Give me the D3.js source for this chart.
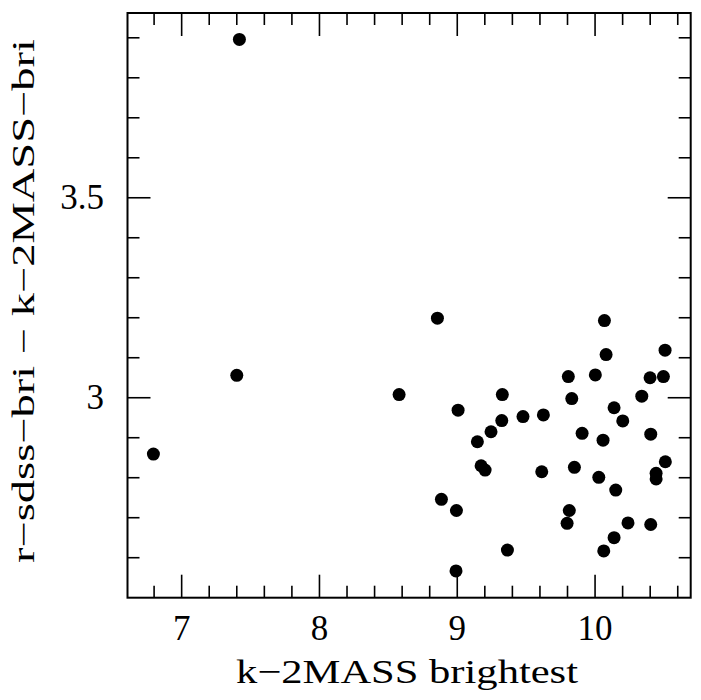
<!DOCTYPE html>
<html>
<head>
<meta charset="utf-8">
<script src="https://cdn.jsdelivr.net/npm/d3@7"></script>
<style>
  html, body { margin: 0; padding: 0; background: #fff; }
  svg text { font-family: "Liberation Serif", "DejaVu Serif", serif; fill: #000; }
</style>
</head>
<body>
<svg id="chart" width="701" height="700"></svg>
<script>
// Brightest-galaxy colour versus K magnitude
const kBrightest = [
  7.419, 7.40, 6.795, 8.856, 8.578, 9.006, 9.327, 9.323, 9.477, 9.625,
  9.245, 9.146, 9.173, 9.202, 9.613, 8.885, 8.994, 9.364, 8.991, 9.806,
  9.831, 10.002, 10.068, 10.08, 10.508, 10.399, 10.496, 10.339, 10.138, 10.201,
  9.906, 10.058, 10.404, 9.85, 10.027, 10.15, 10.51, 10.443, 10.443, 9.813,
  9.797, 10.239, 10.404, 10.138, 10.063
];
const colourDiff = [
  3.896, 3.056, 2.859, 3.199, 3.008, 2.969, 3.008, 2.943, 2.953, 2.957,
  2.915, 2.890, 2.830, 2.819, 2.815, 2.746, 2.718, 2.619, 2.567, 3.053,
  2.998, 3.057, 3.193, 3.108, 3.119, 3.050, 3.053, 3.004, 2.975, 2.942,
  2.911, 2.894, 2.909, 2.826, 2.801, 2.769, 2.840, 2.811, 2.797, 2.718,
  2.686, 2.687, 2.683, 2.650, 2.617
];
const xMajorTicks = [7, 8, 9, 10];
const yMajorTicks = [3, 3.5];
const xTickLabels = ["7", "8", "9", "10"];
const yTickLabels = ["3", "3.5"];
const xTitle = "k\u22122MASS brightest";
const yTitle = "r\u2212sdss\u2212bri  \u2212  k\u22122MASS\u2212bri";

const svg = d3.select("#chart");
const frame = { left: 127.5, right: 690.7, top: 13, bottom: 597.7 };

const x = d3.scaleLinear().domain([6.607, 10.694]).range([frame.left, frame.right]);
const y = d3.scaleLinear().domain([2.5, 3.962]).range([frame.bottom, frame.top]);

const majorLen = 23, minorLen = 12;
const xMinor = d3.range(6.2, 11.0, 0.2).map(v => +v.toFixed(1))
  .filter(v => v > 6.607 && v < 10.694 && !xMajorTicks.some(m => Math.abs(m - v) < 1e-6));
const yMinor = d3.range(2.5, 4.0, 0.1).map(v => +v.toFixed(1))
  .filter(v => v > 2.5 && v < 3.962 && !yMajorTicks.some(m => Math.abs(m - v) < 1e-6));

const g = svg.append("g").attr("stroke", "#000").attr("stroke-width", 1.6);

// ticks on all four sides, pointing inward
function xTicks(vals, len) {
  vals.forEach(v => {
    g.append("line").attr("x1", x(v)).attr("x2", x(v)).attr("y1", frame.bottom).attr("y2", frame.bottom - len);
    g.append("line").attr("x1", x(v)).attr("x2", x(v)).attr("y1", frame.top).attr("y2", frame.top + len);
  });
}
function yTicks(vals, len) {
  vals.forEach(v => {
    g.append("line").attr("y1", y(v)).attr("y2", y(v)).attr("x1", frame.left).attr("x2", frame.left + len);
    g.append("line").attr("y1", y(v)).attr("y2", y(v)).attr("x1", frame.right).attr("x2", frame.right - len);
  });
}
xTicks(xMinor, minorLen);
xTicks(xMajorTicks, majorLen);
yTicks(yMinor, minorLen);
yTicks(yMajorTicks, majorLen);

// frame
svg.append("rect")
  .attr("x", frame.left).attr("y", frame.top)
  .attr("width", frame.right - frame.left).attr("height", frame.bottom - frame.top)
  .attr("fill", "none").attr("stroke", "#000").attr("stroke-width", 2);

// tick labels
svg.append("g").selectAll("text").data(xMajorTicks).join("text")
  .attr("x", d => x(d)).attr("y", 640)
  .attr("text-anchor", "middle").attr("font-size", 35)
  .text((d, i) => xTickLabels[i]);

svg.append("g").selectAll("text").data(yMajorTicks).join("text")
  .attr("x", 104).attr("y", d => y(d) + 11.5)
  .attr("text-anchor", "end").attr("font-size", 35)
  .text((d, i) => yTickLabels[i]);

// axis titles
svg.append("text")
  .attr("x", 407).attr("y", 683)
  .attr("text-anchor", "middle").attr("font-size", 34)
  .attr("textLength", 342).attr("lengthAdjust", "spacingAndGlyphs")
  .text(xTitle);

svg.append("text")
  .attr("transform", "translate(34, 301) rotate(-90)")
  .attr("text-anchor", "middle").attr("font-size", 31)
  .attr("textLength", 524).attr("lengthAdjust", "spacingAndGlyphs")
  .text(yTitle);

// points
svg.append("g").selectAll("circle").data(kBrightest).join("circle")
  .attr("cx", d => x(d))
  .attr("cy", (d, i) => y(colourDiff[i]))
  .attr("r", 6.5)
  .attr("fill", "#000");
</script>
</body>
</html>
